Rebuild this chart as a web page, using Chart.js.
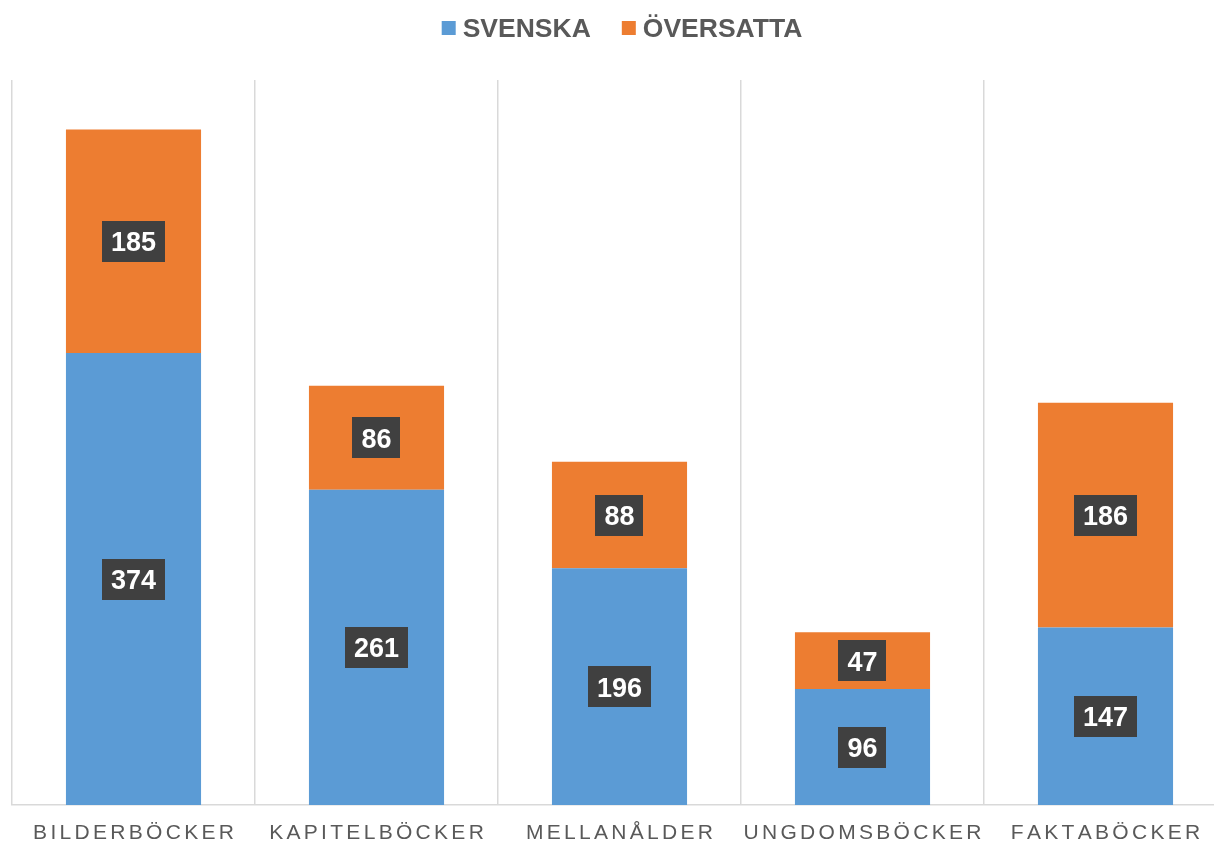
<!DOCTYPE html>
<html>
<head>
<meta charset="utf-8">
<script src="https://cdn.jsdelivr.net/npm/chart.js@4"></script>
<style>
  html, body { margin: 0; padding: 0; overflow: hidden; background: #fff; }
  #wrap { width: 1228px; height: 841px; }
</style>
</head>
<body>
<div id="wrap"><canvas id="myChart"></canvas></div>
<script>
const categories = ['BILDERBÖCKER', 'KAPITELBÖCKER', 'MELLANÅLDER', 'UNGDOMSBÖCKER', 'FAKTABÖCKER'];
const seriesNames = ['SVENSKA', 'ÖVERSATTA'];
const svenska = [374, 261, 196, 96, 147];
const oversatta = [185, 86, 88, 47, 186];
const colors = ['#5B9BD5', '#ED7D31'];

const FONT = '"Liberation Sans", Arial, sans-serif';

// etiketter, legend och kategorinamn ritas här
const extras = {
  id: 'extras',
  afterDatasetsDraw(chart) {
    const ctx = chart.ctx;
    ctx.save();
    ctx.font = 'bold 27px ' + FONT;
    ctx.textAlign = 'center';
    ctx.textBaseline = 'alphabetic';
    chart.data.datasets.forEach((ds, di) => {
      const meta = chart.getDatasetMeta(di);
      meta.data.forEach((bar, i) => {
        const txt = String(ds.data[i]);
        const cy = (bar.y + bar.base) / 2;
        const w = ctx.measureText(txt).width + 18;
        const h = 41;
        ctx.fillStyle = '#404040';
        ctx.fillRect(Math.round(bar.x - w / 2), Math.round(cy - h / 2), Math.round(w), h);
        ctx.fillStyle = '#ffffff';
        ctx.fillText(txt, bar.x, cy + 10);
      });
    });
    ctx.restore();
  },
  afterDraw(chart) {
    const ctx = chart.ctx;
    const xScale = chart.scales.x;
    ctx.save();
    // kategorinamn med spärrad text
    ctx.font = '21px ' + FONT;
    ctx.fillStyle = '#595959';
    ctx.textAlign = 'left';
    ctx.textBaseline = 'alphabetic';
    const sp = 3.3;
    categories.forEach((c, i) => {
      let w = 0;
      for (const ch of c) w += ctx.measureText(ch).width;
      w += sp * (c.length - 1);
      let x = xScale.getPixelForValue(i) - w / 2;
      for (const ch of c) {
        ctx.fillText(ch, x, 839);
        x += ctx.measureText(ch).width + sp;
      }
    });
    // legend
    ctx.font = 'bold 26.5px ' + FONT;
    const box = 14, gap = 7, itemGap = 31;
    const widths = seriesNames.map(n => ctx.measureText(n).width);
    let total = 0;
    widths.forEach(w => total += box + gap + w);
    total += itemGap * (seriesNames.length - 1);
    let x = 622 - total / 2;
    chart.data.datasets.forEach((ds, di) => {
      ctx.fillStyle = ds.backgroundColor;
      ctx.fillRect(x, 21, box, box);
      ctx.fillStyle = '#595959';
      ctx.fillText(ds.label, x + box + gap, 37);
      x += box + gap + widths[di] + itemGap;
    });
    ctx.restore();
  }
};

new Chart(document.getElementById('myChart'), {
  type: 'bar',
  data: {
    labels: categories,
    datasets: [
      { label: seriesNames[0], data: svenska, backgroundColor: colors[0] },
      { label: seriesNames[1], data: oversatta, backgroundColor: colors[1] }
    ]
  },
  options: {
    responsive: true,
    maintainAspectRatio: false,
    animation: false,
    events: [],
    layout: { padding: { top: 80, left: 12, right: 1, bottom: 36 } },
    datasets: { bar: { categoryPercentage: 1, barPercentage: 0.556 } },
    plugins: { legend: { display: false }, tooltip: { enabled: false } },
    scales: {
      x: {
        stacked: true,
        ticks: { display: false },
        grid: { color: '#d9d9d9', lineWidth: 1.5, drawTicks: false, offset: true },
        border: { color: '#d9d9d9', width: 1.5 }
      },
      y: {
        stacked: true,
        display: false,
        min: 0,
        max: 600
      }
    }
  },
  plugins: [extras]
});
</script>
</body>
</html>
